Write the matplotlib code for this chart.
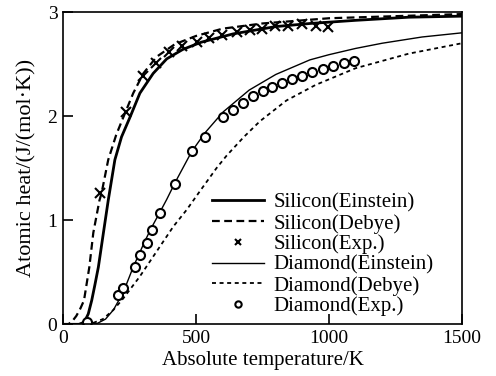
import matplotlib

matplotlib.use('Agg')
import matplotlib.pyplot as plt

plt.rcParams['font.family'] = ['Liberation Serif', 'DejaVu Serif']

# Silicon, Einstein model
si_e_T = [0, 60, 80, 95, 108, 120, 133, 152, 170, 195, 220, 252, 289, 339, 390, 450, 520, 640, 800, 930, 1100, 1300, 1500]
si_e_C = [0, 0, 0.02, 0.10, 0.23, 0.38, 0.55, 0.88, 1.19, 1.58, 1.80, 1.99, 2.22, 2.41, 2.55, 2.64, 2.71, 2.79, 2.86, 2.89, 2.92, 2.95, 2.96]

# Silicon, Debye model
si_d_T = [0, 20, 35, 50, 65, 79, 99, 114, 137, 145, 170, 200, 227, 264, 302, 352, 420, 500, 600, 750, 1000, 1250, 1500]
si_d_C = [0, 0, 0.03, 0.08, 0.15, 0.23, 0.55, 0.88, 1.19, 1.26, 1.58, 1.82, 1.99, 2.22, 2.41, 2.57, 2.69, 2.77, 2.84, 2.89, 2.94, 2.96, 2.98]

# Silicon, experiment
si_x_T = [139, 237, 302, 350, 400, 446, 502, 550, 596, 655, 703, 747, 797, 847, 897, 950, 997]
si_x_C = [1.26, 2.04, 2.39, 2.51, 2.62, 2.67, 2.71, 2.75, 2.78, 2.81, 2.83, 2.84, 2.87, 2.87, 2.88, 2.87, 2.86]

# Diamond, Einstein model
di_e_T = [0, 100, 130, 160, 190, 227, 264, 308, 333, 365, 390, 421, 484, 534, 602, 700, 800, 928, 1000, 1100, 1200, 1350, 1500]
di_e_C = [0, 0, 0.01, 0.05, 0.14, 0.31, 0.55, 0.80, 0.93, 1.08, 1.20, 1.36, 1.66, 1.84, 2.04, 2.25, 2.40, 2.54, 2.59, 2.65, 2.70, 2.76, 2.80]

# Diamond, Debye model
di_d_T = [0, 100, 150, 190, 227, 289, 352, 415, 465, 515, 577, 615, 680, 740, 840, 950, 1100, 1300, 1500]
di_d_C = [0, 0, 0.05, 0.14, 0.25, 0.46, 0.70, 0.94, 1.10, 1.28, 1.50, 1.62, 1.80, 1.95, 2.15, 2.30, 2.46, 2.60, 2.70]

# Diamond, experiment
di_x_T = [89, 208, 227, 271, 289, 314, 333, 365, 421, 484, 534, 602, 640, 678, 715, 750, 785, 822, 860, 897, 935, 978, 1016, 1055, 1095]
di_x_C = [0.02, 0.28, 0.35, 0.55, 0.67, 0.78, 0.91, 1.07, 1.35, 1.66, 1.80, 1.99, 2.06, 2.13, 2.19, 2.24, 2.28, 2.32, 2.36, 2.39, 2.42, 2.45, 2.48, 2.51, 2.53]

fig = plt.figure(figsize=(4.96, 3.76), dpi=100)
ax = fig.add_axes([63 / 496, 1 - 324.3 / 376, 399 / 496, 312.3 / 376])

ax.plot(si_e_T, si_e_C, color='black', lw=2.0, label='Silicon(Einstein)')
ax.plot(si_d_T, si_d_C, color='black', lw=1.6, ls=(0, (3.5, 2)), label='Silicon(Debye)')
ax.plot(si_x_T, si_x_C, ls='none', marker='x', color='black', ms=6.5, mew=1.5, label='Silicon(Exp.)')
ax.plot(di_e_T, di_e_C, color='black', lw=1.0, label='Diamond(Einstein)')
ax.plot(di_d_T, di_d_C, color='black', lw=1.3, ls=(0, (2.2, 2)), label='Diamond(Debye)')
ax.plot(di_x_T, di_x_C, ls='none', marker='o', mfc='white', mec='black', ms=6.5, mew=1.5, label='Diamond(Exp.)')

ax.set_xlim(0, 1500)
ax.set_ylim(0, 3)
ax.set_xticks([0, 500, 1000, 1500])
ax.set_yticks([0, 1, 2, 3])
ax.tick_params(direction='in', length=7, width=1.2, labelsize=14)
ax.tick_params(axis='x', pad=4)
ax.tick_params(axis='y', pad=4)
for s in ax.spines.values():
    s.set_linewidth(1.2)

ax.set_xlabel('Absolute temperature/K', fontsize=15, labelpad=3)
ax.set_ylabel('Atomic heat/(J/(mol·K))', fontsize=16, labelpad=8)

ax.legend(loc='lower left', bbox_to_anchor=(0.373, 0.025), frameon=False, fontsize=15,
          handlelength=2.5, handletextpad=0.45, labelspacing=0.05, borderpad=0, borderaxespad=0,
          markerscale=0.7)

fig.savefig('out.png', dpi=100)
